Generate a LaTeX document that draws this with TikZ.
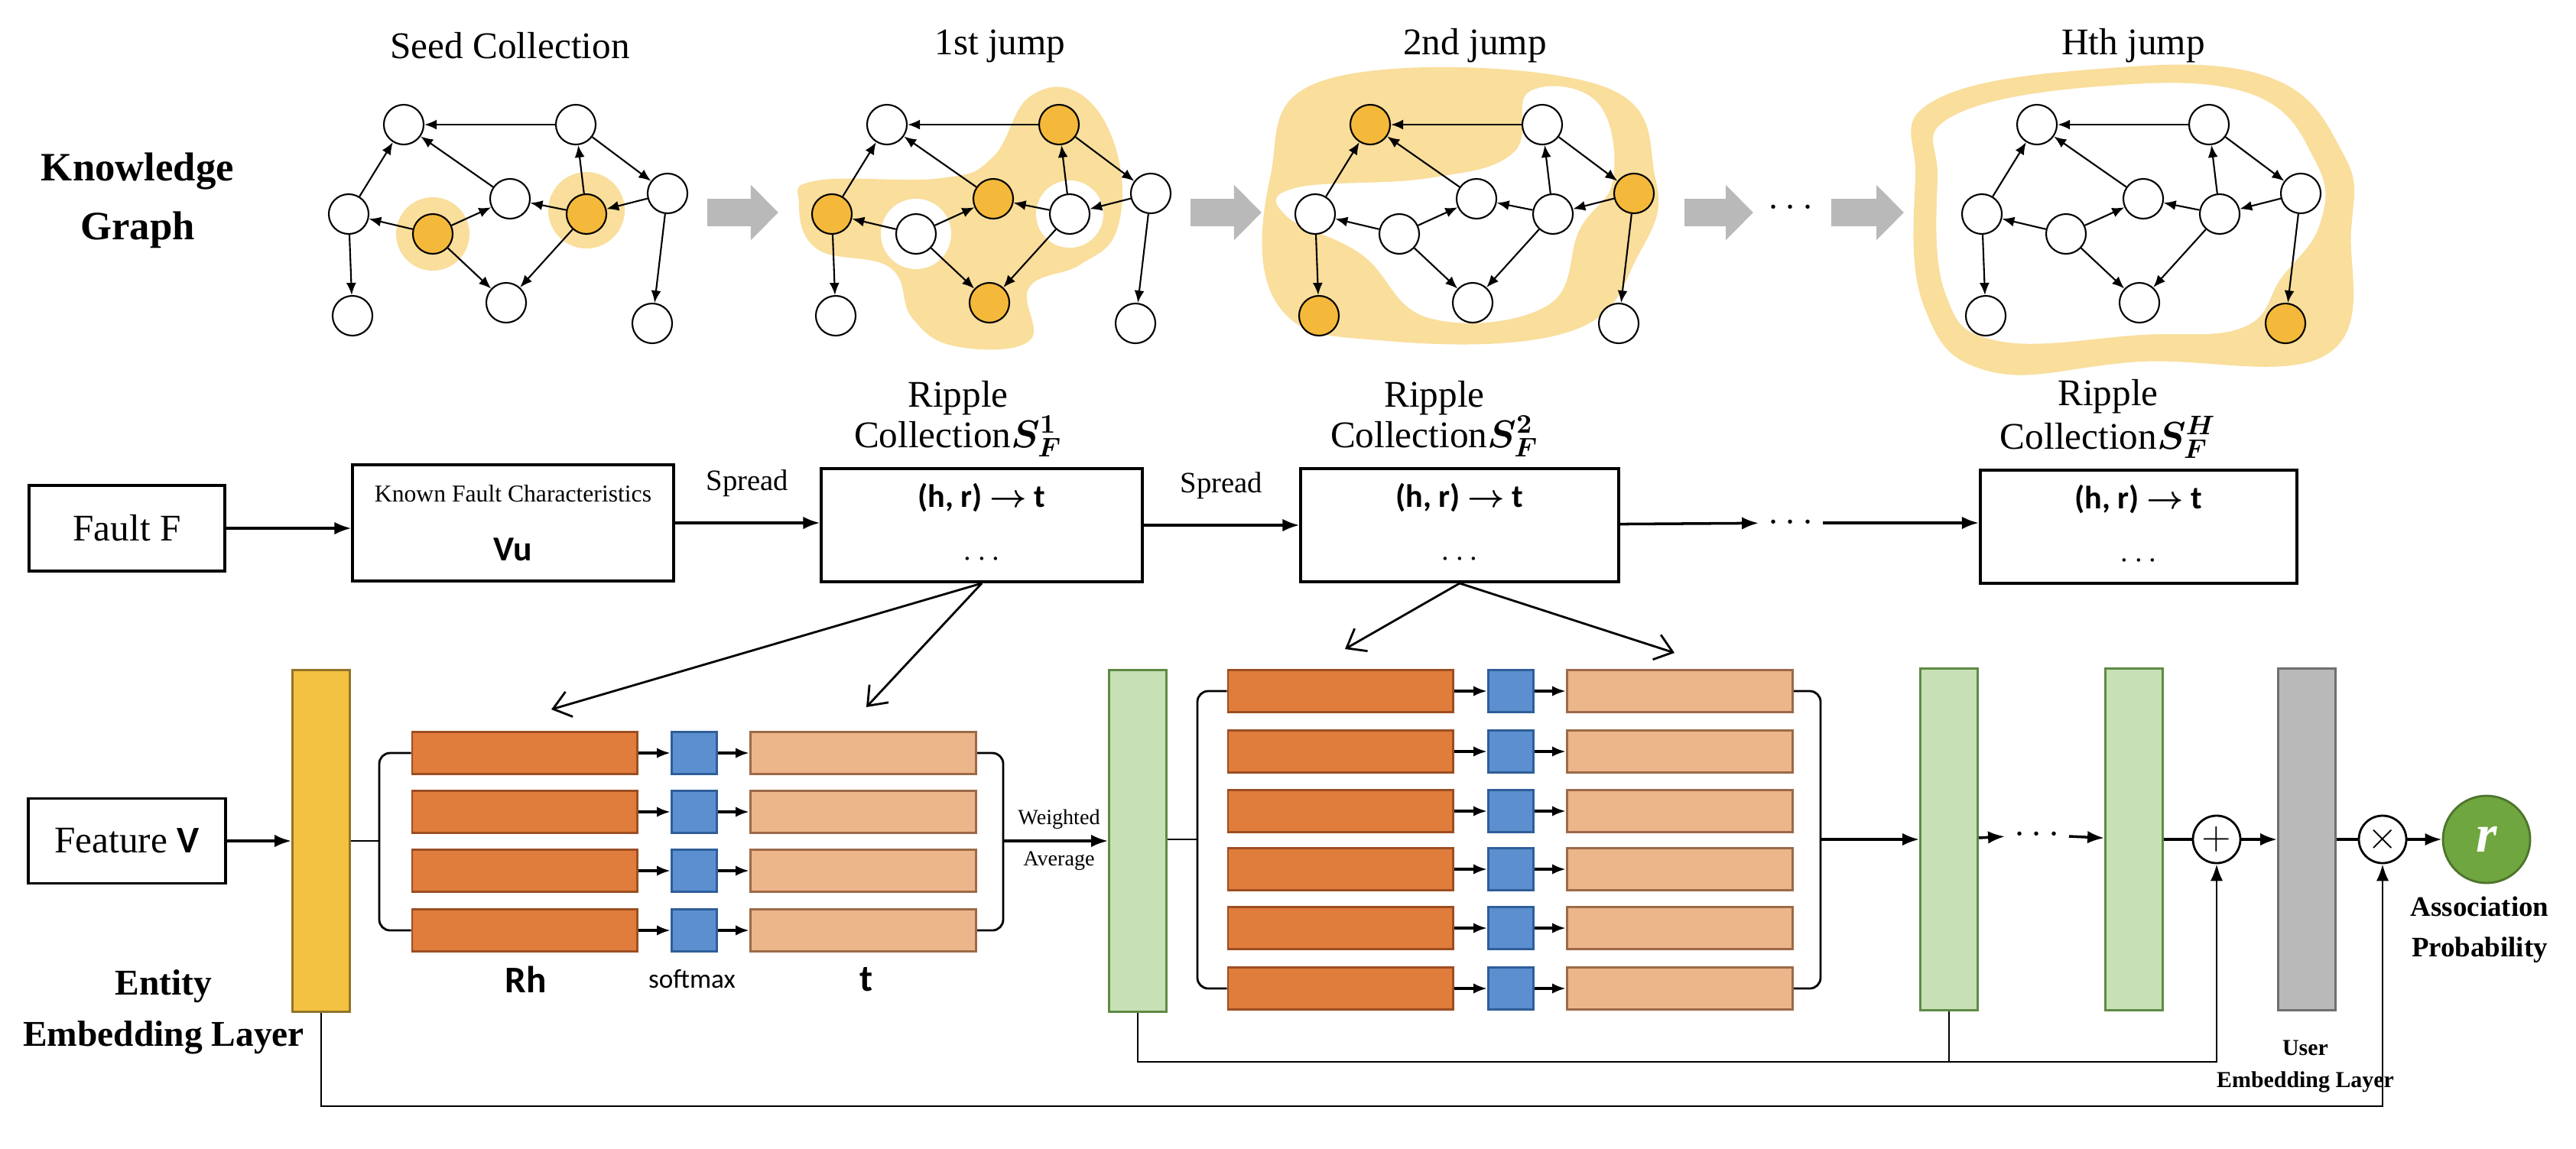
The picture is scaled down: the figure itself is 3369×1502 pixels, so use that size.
\documentclass[tikz,border=0pt]{standalone}
\usepackage{fontspec}
\usepackage{bm}
\setmainfont{Liberation Serif}
\newfontfamily\sff{Carlito}
\usetikzlibrary{arrows.meta,positioning}

\definecolor{seedC}{HTML}{F4B83A}
\definecolor{blobC}{HTML}{F9DE9C}
\definecolor{rhC}{HTML}{E07D3C}
\definecolor{rhD}{HTML}{9C4E22}
\definecolor{tC}{HTML}{EDB58A}
\definecolor{tD}{HTML}{9C6A48}
\definecolor{smC}{HTML}{5B8FD0}
\definecolor{smD}{HTML}{2F5E99}
\definecolor{yelC}{HTML}{F3C242}
\definecolor{grnC}{HTML}{C7E0B5}
\definecolor{grnD}{HTML}{5F8A45}
\definecolor{gryC}{HTML}{B9B9B9}
\definecolor{rC}{HTML}{6FA63F}

\tikzset{
  kgnode/.style={circle,draw,fill=white,minimum size=5.2mm,inner sep=0,line width=0.6pt},
  seed/.style={fill=seedC},
  kgedge/.style={-{Latex[length=1.6mm,width=1.3mm]},line width=0.6pt},
  jump/.style={line width=0.36cm,gryC,-{Triangle[length=3.6mm,width=7mm]}},
  box/.style={draw,line width=1.1pt,inner sep=0},
  flow/.style={-{Latex[length=2.2mm]},line width=1pt},
  barb/.style={-{Straight Barb[length=2.2mm,width=3.4mm]},line width=0.8pt},
  bar/.style={draw,minimum width=0.75cm,minimum height=4.47cm,inner sep=0,line width=0.8pt},
  rh/.style={draw=rhD,fill=rhC,minimum width=2.94cm,minimum height=0.55cm,line width=0.8pt},
  sm/.style={draw=smD,fill=smC,minimum width=0.59cm,minimum height=0.55cm,line width=0.8pt},
  tt/.style={draw=tD,fill=tC,minimum width=2.95cm,minimum height=0.55cm,line width=0.8pt},
  rowarr/.style={-{Latex[length=1.8mm]},line width=1pt},
  op/.style={circle,draw,minimum size=0.62cm,inner sep=0,line width=0.8pt},
  kA4/.style=seed, kA6/.style=seed,
  kB2/.style=seed, kB3/.style=seed, kB5/.style=seed, kB9/.style=seed,
  kC1/.style=seed, kC7/.style=seed, kC8/.style=seed,
  kD10/.style=seed
}

% one knowledge graph, #1 = name, #2 = x of its first node
\newcommand\kgraph[2]{%
  \begin{scope}[shift={(#2,163)}]
    \foreach \n/\x/\y in {1/0/0,2/225/0,3/-72/117,4/38/143,5/139/97,6/239/117,7/345/90,8/-67/250,9/134/233,10/325/260}
      {\edef\tmp{\noexpand\node[kgnode,#1\n/.try]}\tmp (#1\n) at (\x,\y) {};}
    \foreach \a/\b in {2/1,3/1,5/1,4/3,4/5,4/9,6/5,6/2,6/9,7/6,2/7,3/8,7/10}
      \draw[kgedge] (#1\a) -- (#1\b);
  \end{scope}}

\begin{document}
\begin{tikzpicture}[x=0.01cm,y=-0.01cm]
\useasboundingbox (0,0) rectangle (3369,1502);

% ripple areas
\begin{scope}[shift={(528,163)}]
  \fill[blobC] (38,143) circle (48);
  \fill[blobC] (239,112) circle (50);
\end{scope}
\begin{scope}[shift={(1160,163)}]
  \fill[blobC] plot[smooth cycle,tension=0.7] coordinates {(-115,103) (-91,73) (71,70) (138,43) (186,-36) (253,-40) (301,37) (301,137) (253,183) (186,213) (186,283) (90,290) (33,253) (4,187) (-91,163)};
  \fill[white] (38,143) circle (46);
  \fill[white] (239,117) circle (44);
\end{scope}
\begin{scope}[shift={(1792,163)}]
  \fill[blobC] plot[smooth cycle,tension=0.7] coordinates {(-54,-60) (296,-53) (373,70) (351,170) (263,270) (22,283) (-120,237) (-131,70)};
  \fill[white] plot[smooth cycle,tension=0.7] coordinates {(-98,83) (77,70) (187,37) (208,-43) (296,-30) (318,70) (274,137) (231,237) (77,253) (-11,170) (-109,120)};
\end{scope}
\begin{scope}[shift={(2664,163)}]
  \fill[blobC] plot[smooth cycle,tension=0.7] coordinates {(-137,-30) (82,-73) (301,-63) (400,37) (411,137) (380,300) (137,310) (-61,323) (-148,237) (-159,70)};
  \fill[white] plot[smooth cycle,tension=0.7] coordinates {(-112,-10) (82,-50) (280,-40) (365,50) (370,130) (320,200) (270,265) (137,275) (-50,283) (-120,220) (-130,70)};
\end{scope}

% knowledge graphs
\kgraph{kA}{528}
\kgraph{kB}{1160}
\kgraph{kC}{1792}
\kgraph{kD}{2664}

\node[font=\fontsize{15}{18}\selectfont\bfseries,align=center] (kg) at (180,262) {Knowledge\\[4pt]Graph};
\node[font=\fontsize{14}{16}\selectfont] (tA) at (667,60) {Seed Collection};
\node[font=\fontsize{14}{16}\selectfont] (tB) at (1308,60) {1st jump};
\node[font=\fontsize{14}{16}\selectfont] (tC) at (1929,60) {2nd jump};
\node[font=\fontsize{14}{16}\selectfont] (tD) at (2790,60) {Hth jump};

\coordinate (j1a) at (925,278); \coordinate (j1b) at (1018,278);
\coordinate (j2a) at (1557,278); \coordinate (j2b) at (1650,278);
\coordinate (j3a) at (2203,278); \coordinate (j3b) at (2293,278);
\coordinate (j4a) at (2395,278); \coordinate (j4b) at (2490,278);
\draw[jump] (j1a) -- (j1b);
\draw[jump] (j2a) -- (j2b);
\draw[jump] (j3a) -- (j3b);
\draw[jump] (j4a) -- (j4b);
\node[font=\fontsize{14}{16}\selectfont\bfseries] (jd) at (2342,272) {$\cdots$};

% spreading row
\node[box,minimum width=2.55cm,minimum height=1.12cm,font=\fontsize{14}{16}\selectfont] (fault) at (166,691) {Fault F};
\node[box,minimum width=4.19cm,minimum height=1.52cm,align=center] (known) at (671,684)
  {{\fontsize{9}{10}\selectfont Known Fault Characteristics}\\[10pt]{\sff\bfseries\fontsize{13}{14}\selectfont Vu}};
\node[box,minimum width=4.19cm,minimum height=1.48cm,align=center,font=\sff\bfseries\fontsize{12}{14}\selectfont] (rc1) at (1284,687) {(h, r) $\bm{\rightarrow}$ t\\[8pt]$\cdots$};
\node[box,minimum width=4.15cm,minimum height=1.48cm,align=center,font=\sff\bfseries\fontsize{12}{14}\selectfont] (rc2) at (1909,687) {(h, r) $\bm{\rightarrow}$ t\\[8pt]$\cdots$};
\node[box,minimum width=4.14cm,minimum height=1.48cm,align=center,font=\sff\bfseries\fontsize{12}{14}\selectfont] (rcH) at (2797,689) {(h, r) $\bm{\rightarrow}$ t\\[8pt]$\cdots$};
\node[font=\fontsize{14}{16}\selectfont\bfseries] (md) at (2342,684) {$\cdots$};

\node[align=center,font=\fontsize{14}{15}\selectfont] (lab1) at (1253,548) {Ripple\\Collection$\bm{S_F^1}$};
\node[align=center,font=\fontsize{14}{15}\selectfont] (lab2) at (1876,548) {Ripple\\Collection$\bm{S_F^2}$};
\node[align=center,font=\fontsize{14}{15}\selectfont] (labH) at (2757,548) {Ripple\\Collection$\bm{S_F^H}$};

\draw[flow] (fault) -- (fault -| known.west);
\draw[flow] (known) -- node[above=6pt,font=\fontsize{11}{12}\selectfont]{Spread} (known -| rc1.west);
\draw[flow] (rc1) -- node[above=6pt,font=\fontsize{11}{12}\selectfont]{Spread} (rc1 -| rc2.west);
\draw[flow] (rc2) -- (md);
\draw[flow] (md) -- (md -| rcH.west);

% attention blocks
\node[bar,fill=yelC,draw=yelC!60!black] (ent) at (420,1100) {};
\node[box,minimum width=2.57cm,minimum height=1.11cm,font=\fontsize{14}{16}\selectfont] (feat) at (166,1100) {Feature {\sff\bfseries V}};
\draw[flow] (feat) -- (ent);
\node[align=center,font=\fontsize{13.5}{19}\selectfont\bfseries] (entl) at (214,1324) {Entity\\Embedding Layer};

\foreach \i/\y in {1/985,2/1062,3/1139,4/1217}{
  \node[rh] (ha\i) at (686,\y) {};
  \node[sm] (sa\i) at (908,\y) {};
  \node[tt] (ta\i) at (1129,\y) {};
  \draw[rowarr] (ha\i) -- (sa\i);
  \draw[rowarr] (sa\i) -- (ta\i);
}
\node[font=\sff\bfseries\fontsize{14}{16}\selectfont] (rhl) at (688,1281) {Rh};
\node[font=\sff\fontsize{10}{12}\selectfont] (sml) at (905,1281) {softmax};
\node[font=\sff\bfseries\fontsize{14}{16}\selectfont] (tl) at (1133,1281) {t};

\node[bar,fill=grnC,draw=grnD] (lA) at (1488,1100) {};
\coordinate (bAl) at (496,1100);
\coordinate (bAr) at (1312,1100);
\draw[line width=0.8pt] (ent) -- (bAl);
\draw[line width=0.8pt,rounded corners=4pt] (ha1.west) -| (bAl) |- (ha4.west);
\draw[line width=0.8pt,rounded corners=4pt] (ta1.east) -| (bAr) |- (ta4.east);
\draw[flow] (bAr) -- (lA);
\node[font=\fontsize{8}{9}\selectfont] (wav1) at (1385,1072) {Weighted};
\node[font=\fontsize{8}{9}\selectfont] (wav2) at (1385,1126) {Average};

\foreach \i/\y in {1/904,2/983,3/1061,4/1137,5/1214,6/1293}{
  \node[rh] (hb\i) at (1753,\y) {};
  \node[sm] (sb\i) at (1976,\y) {};
  \node[tt] (tb\i) at (2197,\y) {};
  \draw[rowarr] (hb\i) -- (sb\i);
  \draw[rowarr] (sb\i) -- (tb\i);
}
\node[bar,fill=grnC,draw=grnD] (lB) at (2549,1098) {};
\node[bar,fill=grnC,draw=grnD] (lC) at (2791,1098) {};
\node[bar,fill=gryC,draw=gryC!60!black] (usr) at (3017,1098) {};
\coordinate (bBl) at (1566,1098);
\coordinate (bBr) at (2381,1098);
\draw[line width=0.8pt] (lA.east |- bBl) -- (bBl);
\draw[line width=0.8pt,rounded corners=4pt] (hb1.west) -| (bBl) |- (hb6.west);
\draw[line width=0.8pt,rounded corners=4pt] (tb1.east) -| (bBr) |- (tb6.east);
\draw[flow] (bBr) -- (lB);
\node[font=\fontsize{14}{16}\selectfont\bfseries] (ld) at (2664,1092) {$\cdots$};
\draw[flow] (lB) -- (ld);
\draw[flow] (ld) -- (lC);

\node[op] (plus) at (2899,1098) {\Large$+$};
\node[op] (times) at (3116,1098) {\Large$\times$};
\node[circle,draw=rC!70!black,fill=rC,minimum size=1.14cm,line width=0.8pt,font=\fontsize{20}{20}\selectfont\bfseries\itshape,text=white] (rr) at (3252,1098) {r};
\draw[line width=1pt] (lC) -- (plus);
\draw[flow] (plus) -- (usr);
\draw[line width=1pt] (usr) -- (times);
\draw[flow] (times) -- (rr);
\node[align=center,font=\fontsize{10.5}{15}\selectfont\bfseries] (asp) at (3243,1216) {Association\\Probability};
\node[align=center,font=\fontsize{8.5}{12}\selectfont\bfseries] (usl) at (3015,1395) {User\\Embedding Layer};

% skip connections
\coordinate (skA) at (1488,1389);
\coordinate (skE) at (420,1447);
\draw[flow,line width=0.8pt] (lA.south) -- (skA) -| (plus.south);
\draw[line width=0.8pt] (lB.south) -- (lB.south |- skA);
\draw[flow,line width=0.8pt] (ent.south) -- (skE) -| (times.south);

% ripple sets to attention rows
\coordinate (pa1) at (721,928); \coordinate (pa2) at (1133,925);
\coordinate (pb1) at (1759,849); \coordinate (pb2) at (2190,854);
\draw[barb] (rc1.south) -- (pa1);
\draw[barb] (rc1.south) -- (pa2);
\draw[barb] (rc2.south) -- (pb1);
\draw[barb] (rc2.south) -- (pb2);
\end{tikzpicture}
\end{document}
